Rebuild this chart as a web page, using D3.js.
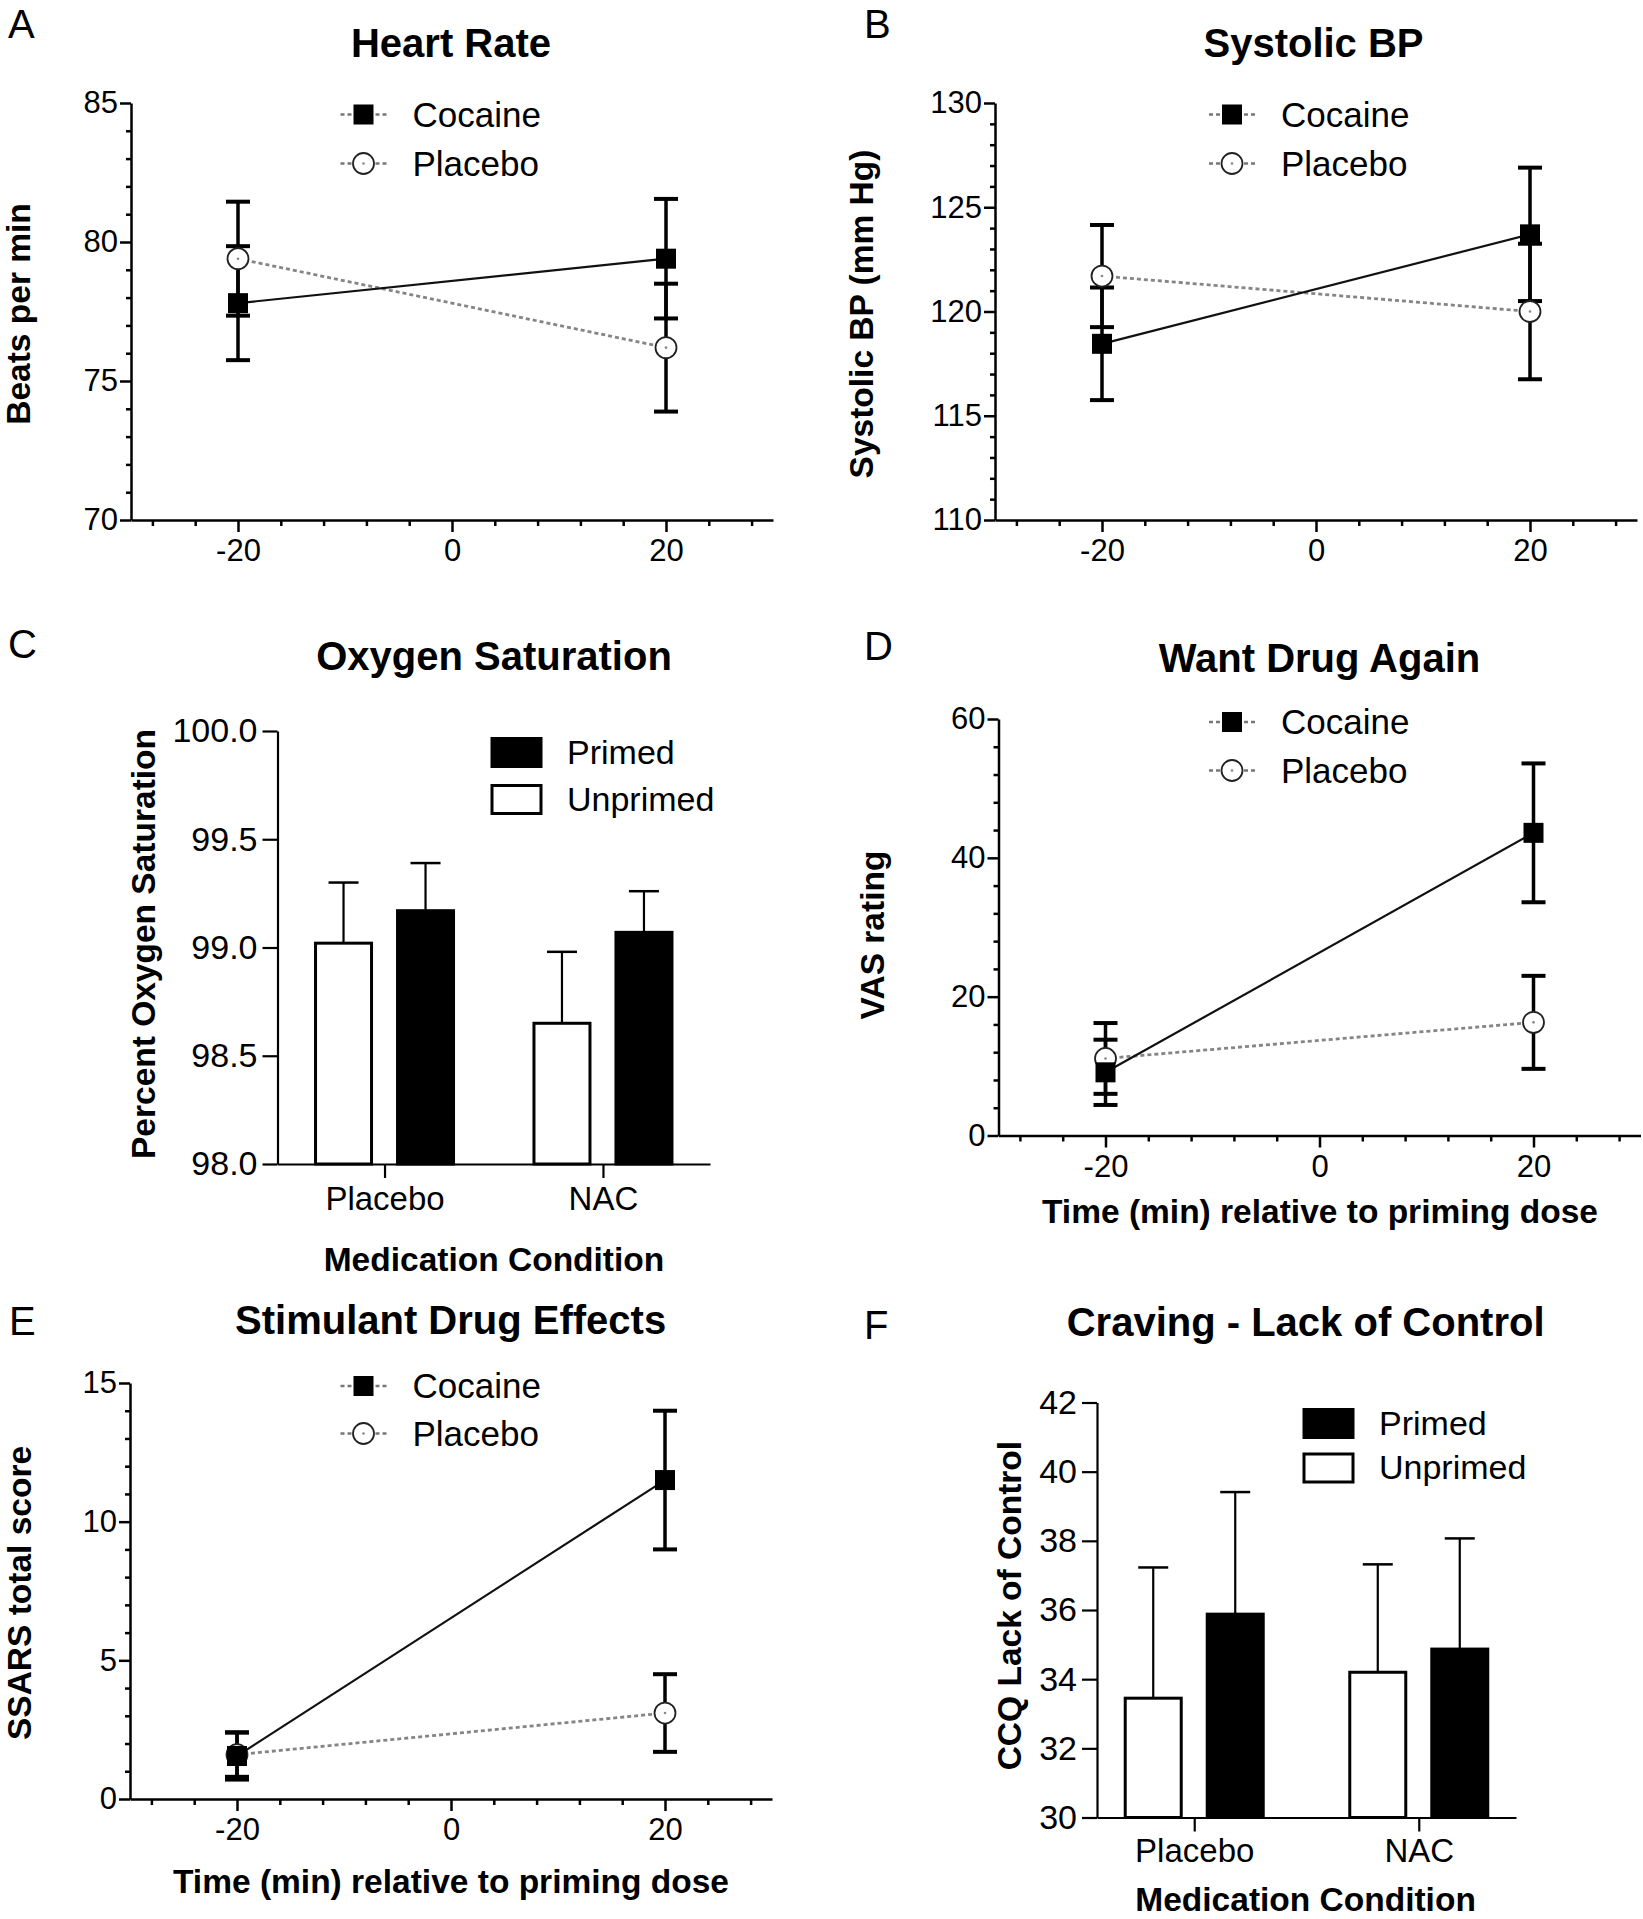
<!DOCTYPE html>
<html>
<head>
<meta charset="utf-8">
<script src="https://cdn.jsdelivr.net/npm/d3@7"></script>
<style>
  html, body { margin: 0; padding: 0; background: #fff; }
  svg { display: block; font-family: "Liberation Sans", Arial, Helvetica, sans-serif; }
</style>
</head>
<body>
<script>
// ---------------- DATA ----------------
const timePoints = [-20, 20];
const timeTicks = [-20, 0, 20];
const timeMinorTicks = [-28, -24, -16, -12, -8, -4, 4, 8, 12, 16, 24, 28];
const seriesNames = ["Cocaine", "Placebo"];

// A: Heart Rate
const hrCocaine = [77.8, 79.4];
const hrCocaineErr = [2.05, 2.15];
const hrPlacebo = [79.4, 76.2];
const hrPlaceboErr = [2.05, 2.3];
const hrTicks = [70, 75, 80, 85];

// B: Systolic BP
const sbpCocaine = [118.45, 123.7];
const sbpCocaineErr = [2.7, 3.2];
const sbpPlacebo = [121.7, 120.0];
const sbpPlaceboErr = [2.45, 3.25];
const sbpTicks = [110, 115, 120, 125, 130];

// D: Want Drug Again
const wantCocaine = [9.1, 43.6];
const wantCocaineErr = [4.7, 10.0];
const wantPlacebo = [11.1, 16.3];
const wantPlaceboErr = [5.1, 6.7];
const wantTicks = [0, 20, 40, 60];

// E: Stimulant Drug Effects
const ssarsCocaine = [1.55, 11.5];
const ssarsCocaineErr = [0.85, 2.5];
const ssarsPlacebo = [1.6, 3.1];
const ssarsPlaceboErr = [0.8, 1.4];
const ssarsTicks = [0, 5, 10, 15];

// C / F: bar charts
const medConditions = ["Placebo", "NAC"];
const primingGroups = ["Unprimed", "Primed"];
const legendGroups = ["Primed", "Unprimed"];

const o2Unprimed = [99.02, 98.65];
const o2UnprimedErr = [0.28, 0.33];
const o2Primed = [99.17, 99.07];
const o2PrimedErr = [0.22, 0.19];
const o2Ticks = [98.0, 98.5, 99.0, 99.5, 100.0];

const ccqUnprimed = [33.45, 34.2];
const ccqUnprimedErr = [3.78, 3.12];
const ccqPrimed = [35.88, 34.87];
const ccqPrimedErr = [3.53, 3.2];
const ccqTicks = [30, 32, 34, 36, 38, 40, 42];

// ---------------- DRAWING ----------------
const W = 1643, H = 1919;
const svg = d3.select("body").append("svg").attr("width", W).attr("height", H);
svg.append("rect").attr("width", W).attr("height", H).attr("fill", "#fff");

const intFmt = d => String(d);           // plain hyphen-minus, as in the original

function styleAxis(sel, sw, fs) {
  sel.attr("font-size", null).attr("font-family", null);
  sel.selectAll("path, line").attr("stroke", "#000").attr("stroke-width", sw);
  sel.selectAll("text").attr("fill", "#000").style("font-size", fs + "px");
}

function panelText(t) {
  svg.append("text").attr("x", t.letterX).attr("y", t.letterY)
    .style("font-size", "40px").text(t.letter);
  svg.append("text").attr("x", t.titleX).attr("y", t.titleY).attr("text-anchor", "middle")
    .style("font-size", "40px").style("font-weight", "bold").text(t.title);
  svg.append("text").attr("transform", `translate(${t.yTitleX},${t.yTitleY}) rotate(-90)`)
    .attr("text-anchor", "middle").style("font-size", "33.5px").style("font-weight", "bold").text(t.yTitle);
  if (t.xTitle) {
    svg.append("text").attr("x", t.xTitleX).attr("y", t.xTitleY).attr("text-anchor", "middle")
      .style("font-size", "33.5px").style("font-weight", "bold").text(t.xTitle);
  }
}

function drawMarker(g, name, cx, cy) {
  if (name === "Cocaine") {
    g.append("rect").attr("x", cx - 10).attr("y", cy - 10).attr("width", 20).attr("height", 20).attr("fill", "#000");
  } else {
    g.append("circle").attr("cx", cx).attr("cy", cy).attr("r", 10.5)
      .attr("fill", "#fff").attr("stroke", "#222").attr("stroke-width", 1.8);
    g.append("circle").attr("cx", cx).attr("cy", cy).attr("r", 1.3).attr("fill", "#888");
  }
}

function linePanel(p) {
  const x = d3.scaleLinear().domain([-30, 30]).range([p.x0, p.x1]);
  const y = d3.scaleLinear().domain([p.yTicks[0], p.yTicks[p.yTicks.length - 1]]).range([p.yBottom, p.yTop]);
  const g = svg.append("g");

  const yMinor = d3.range(p.yTicks[0], p.yTicks[p.yTicks.length - 1], p.yMinorStep).filter(v => !p.yTicks.includes(v));
  g.append("g").attr("transform", `translate(${p.x0},0)`)
    .call(d3.axisLeft(y).tickValues(yMinor).tickSize(5).tickFormat(""))
    .call(s => s.select(".domain").remove())
    .call(s => styleAxis(s, 2.5, 31));
  g.append("g").attr("transform", `translate(${p.x0},0)`)
    .call(d3.axisLeft(y).tickValues(p.yTicks).tickSize(11).tickPadding(2).tickSizeOuter(0).tickFormat(intFmt))
    .call(s => styleAxis(s, 2.5, 31));
  g.append("g").attr("transform", `translate(0,${p.yBottom})`)
    .call(d3.axisBottom(x).tickValues(timeMinorTicks).tickSize(6).tickFormat(""))
    .call(s => s.select(".domain").remove())
    .call(s => styleAxis(s, 2.5, 31));
  g.append("g").attr("transform", `translate(0,${p.yBottom})`)
    .call(d3.axisBottom(x).tickValues(timeTicks).tickSize(12).tickPadding(7).tickSizeOuter(0).tickFormat(intFmt))
    .call(s => styleAxis(s, 2.5, 31));

  const series = [
    { name: "Placebo", vals: p.placebo, err: p.placeboErr },
    { name: "Cocaine", vals: p.cocaine, err: p.cocaineErr }
  ];
  const line = d3.line().x((d, i) => x(timePoints[i])).y(d => y(d));

  series.forEach(s => {
    g.append("path").datum(s.vals).attr("d", line).attr("fill", "none")
      .attr("stroke", s.name === "Cocaine" ? "#111" : "#858585")
      .attr("stroke-width", s.name === "Cocaine" ? 2.2 : 2.8)
      .attr("stroke-dasharray", s.name === "Cocaine" ? null : "4,3");
  });
  series.forEach(s => {
    s.vals.forEach((v, i) => {
      const cx = x(timePoints[i]);
      g.append("line").attr("x1", cx).attr("x2", cx).attr("y1", y(v - s.err[i])).attr("y2", y(v + s.err[i]))
        .attr("stroke", "#000").attr("stroke-width", 3.5);
      [v - s.err[i], v + s.err[i]].forEach(e => {
        g.append("line").attr("x1", cx - 12).attr("x2", cx + 12).attr("y1", y(e)).attr("y2", y(e))
          .attr("stroke", "#000").attr("stroke-width", 4);
      });
    });
  });
  series.forEach(s => {
    s.vals.forEach((v, i) => drawMarker(g, s.name, x(timePoints[i]), y(v)));
  });

  seriesNames.forEach((name, i) => {
    const ly = p.legY + i * p.legGap;
    g.append("line").attr("x1", p.legX - 23).attr("x2", p.legX + 23).attr("y1", ly).attr("y2", ly)
      .attr("stroke", "#777").attr("stroke-width", 2.5).attr("stroke-dasharray", "4,3");
    drawMarker(g, name, p.legX, ly);
    g.append("text").attr("x", p.legX + 49).attr("y", ly + 12).style("font-size", "35px").text(name);
  });
}

function barPanel(p) {
  const xc = d3.scalePoint().domain(medConditions).range([p.x0, p.x1]).padding(p.pad);
  const xs = d3.scaleBand().domain(primingGroups).range([-69, 69]).paddingInner(p.inner);
  const y = d3.scaleLinear().domain([p.yTicks[0], p.yTicks[p.yTicks.length - 1]]).range([p.yBottom, p.yTop]);
  const g = svg.append("g");

  const data = {
    Unprimed: { vals: p.unprimed, err: p.unprimedErr, fill: "#fff" },
    Primed: { vals: p.primed, err: p.primedErr, fill: "#000" }
  };

  primingGroups.forEach(k => {
    const s = data[k];
    medConditions.forEach((c, i) => {
      const bx = xc(c) + xs(k);
      const cx = bx + xs.bandwidth() / 2;
      const top = s.vals[i] + s.err[i];
      g.append("line").attr("x1", cx).attr("x2", cx).attr("y1", y(s.vals[i])).attr("y2", y(top))
        .attr("stroke", "#000").attr("stroke-width", 2.2);
      g.append("line").attr("x1", cx - 15).attr("x2", cx + 15).attr("y1", y(top)).attr("y2", y(top))
        .attr("stroke", "#000").attr("stroke-width", 2.5);
      g.append("rect").attr("x", bx).attr("y", y(s.vals[i])).attr("width", xs.bandwidth())
        .attr("height", p.yBottom - y(s.vals[i])).attr("fill", s.fill)
        .attr("stroke", "#000").attr("stroke-width", 3);
    });
  });

  g.append("g").attr("transform", `translate(${p.x0},0)`)
    .call(d3.axisLeft(y).tickValues(p.yTicks).tickSize(15).tickPadding(5).tickSizeOuter(0).tickFormat(d3.format(p.fmt)))
    .call(s => styleAxis(s, 2.2, 34));
  g.append("g").attr("transform", `translate(0,${p.yBottom})`)
    .call(d3.axisBottom(xc).tickSize(14).tickPadding(p.catPad).tickSizeOuter(0))
    .call(s => styleAxis(s, 2.2, 33));

  legendGroups.forEach((k, i) => {
    const ly = p.legY + i * p.legGap;
    g.append("rect").attr("x", p.legX).attr("y", ly).attr("width", 49).attr("height", 28)
      .attr("fill", data[k].fill).attr("stroke", "#000").attr("stroke-width", 3);
    g.append("text").attr("x", p.legX + 75).attr("y", ly + 25).style("font-size", "34px").text(k);
  });
}

// ---- Panel A ----
linePanel({ x0: 131, x1: 773, yTop: 103, yBottom: 520, yTicks: hrTicks, yMinorStep: 1,
  cocaine: hrCocaine, cocaineErr: hrCocaineErr, placebo: hrPlacebo, placeboErr: hrPlaceboErr,
  legX: 363.5, legY: 114.5, legGap: 49 });
panelText({ letter: "A", letterX: 8, letterY: 38, title: "Heart Rate", titleX: 451, titleY: 57,
  yTitle: "Beats per min", yTitleX: 30, yTitleY: 314 });

// ---- Panel B ----
linePanel({ x0: 995, x1: 1637, yTop: 103, yBottom: 520, yTicks: sbpTicks, yMinorStep: 1,
  cocaine: sbpCocaine, cocaineErr: sbpCocaineErr, placebo: sbpPlacebo, placeboErr: sbpPlaceboErr,
  legX: 1232, legY: 114.5, legGap: 49 });
panelText({ letter: "B", letterX: 864, letterY: 38, title: "Systolic BP", titleX: 1313.5, titleY: 57,
  yTitle: "Systolic BP (mm Hg)", yTitleX: 873, yTitleY: 314 });

// ---- Panel C ----
barPanel({ x0: 277.5, x1: 710, pad: 0.49, inner: 0.317, yTop: 731, yBottom: 1164, yTicks: o2Ticks, fmt: ".1f",
  unprimed: o2Unprimed, unprimedErr: o2UnprimedErr, primed: o2Primed, primedErr: o2PrimedErr,
  catPad: 9, legX: 492, legY: 738.5, legGap: 47 });
panelText({ letter: "C", letterX: 8, letterY: 658, title: "Oxygen Saturation", titleX: 494, titleY: 669.5,
  yTitle: "Percent Oxygen Saturation", yTitleX: 155, yTitleY: 944,
  xTitle: "Medication Condition", xTitleX: 494, xTitleY: 1271 });

// ---- Panel D ----
linePanel({ x0: 998.5, x1: 1640.5, yTop: 719, yBottom: 1135.5, yTicks: wantTicks, yMinorStep: 4,
  cocaine: wantCocaine, cocaineErr: wantCocaineErr, placebo: wantPlacebo, placeboErr: wantPlaceboErr,
  legX: 1232, legY: 722, legGap: 48.5 });
panelText({ letter: "D", letterX: 864, letterY: 660, title: "Want Drug Again", titleX: 1319.5, titleY: 671.5,
  yTitle: "VAS rating", yTitleX: 884, yTitleY: 935,
  xTitle: "Time (min) relative to priming dose", xTitleX: 1320, xTitleY: 1223 });

// ---- Panel E ----
linePanel({ x0: 130, x1: 772, yTop: 1383, yBottom: 1799, yTicks: ssarsTicks, yMinorStep: 1,
  cocaine: ssarsCocaine, cocaineErr: ssarsCocaineErr, placebo: ssarsPlacebo, placeboErr: ssarsPlaceboErr,
  legX: 363.5, legY: 1386, legGap: 47.5 });
panelText({ letter: "E", letterX: 9, letterY: 1335, title: "Stimulant Drug Effects", titleX: 450.6, titleY: 1334,
  yTitle: "SSARS total score", yTitleX: 31, yTitleY: 1593,
  xTitle: "Time (min) relative to priming dose", xTitleX: 451, xTitleY: 1893 });

// ---- Panel F ----
barPanel({ x0: 1097, x1: 1516, pad: 0.433, inner: 0.317, yTop: 1402.5, yBottom: 1817.5, yTicks: ccqTicks, fmt: "d",
  unprimed: ccqUnprimed, unprimedErr: ccqUnprimedErr, primed: ccqPrimed, primedErr: ccqPrimedErr,
  catPad: 7, legX: 1304, legY: 1409.5, legGap: 44.5 });
panelText({ letter: "F", letterX: 864, letterY: 1339, title: "Craving - Lack of Control", titleX: 1305.6, titleY: 1336,
  yTitle: "CCQ Lack of Control", yTitleX: 1021, yTitleY: 1605.6,
  xTitle: "Medication Condition", xTitleX: 1305.6, xTitleY: 1911 });
</script>
</body>
</html>
